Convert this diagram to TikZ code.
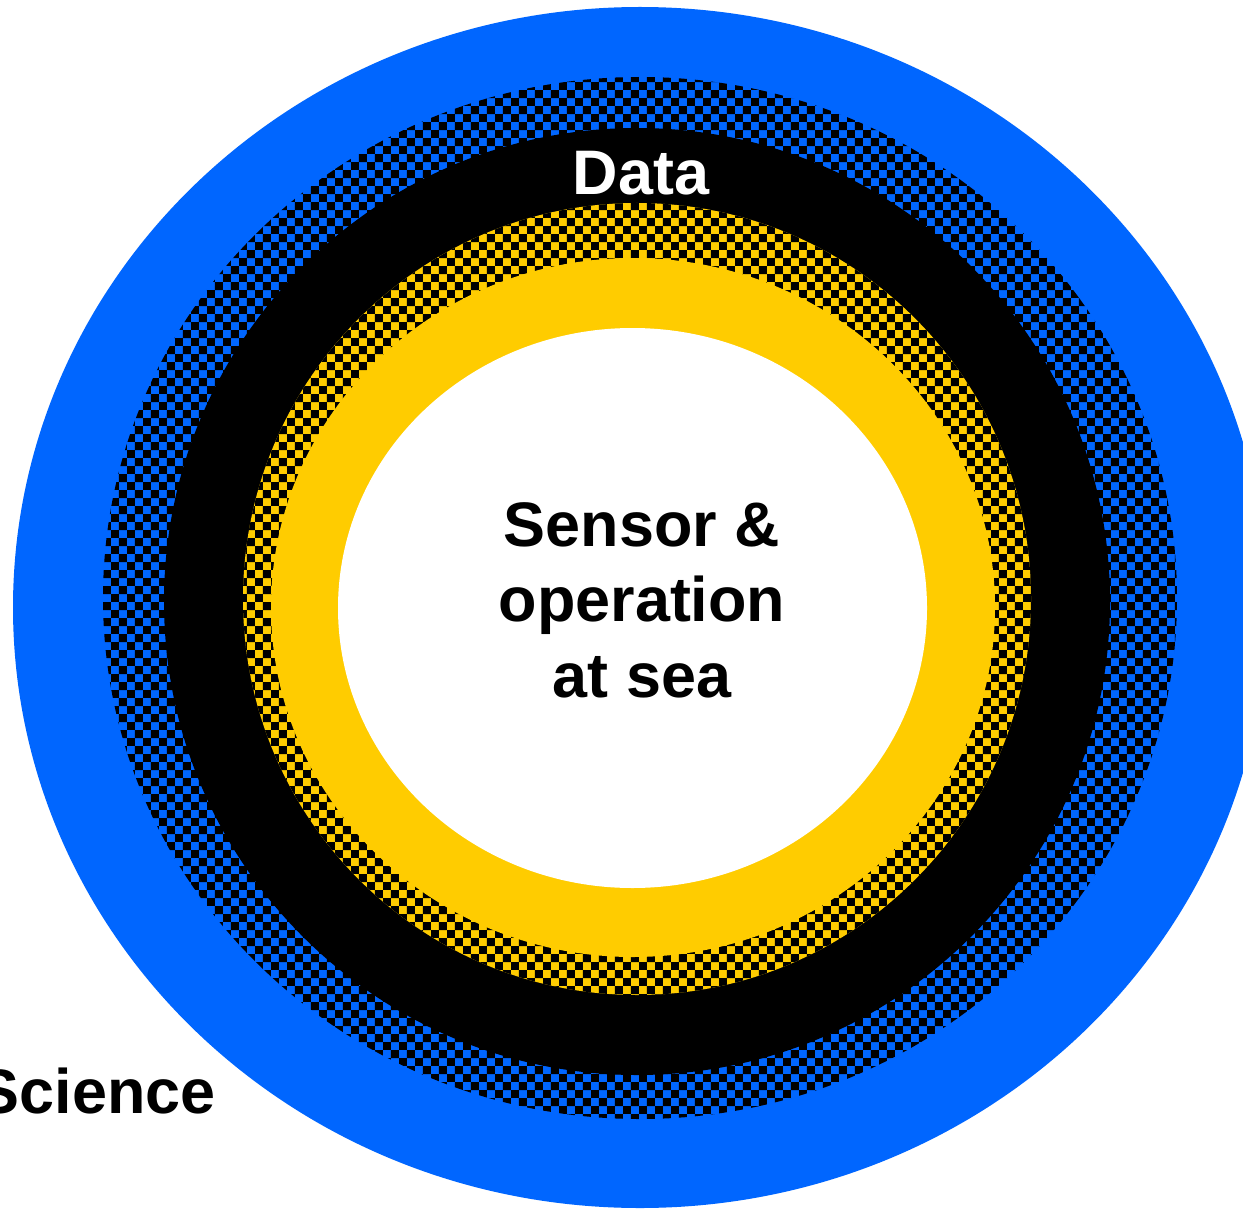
\documentclass[tikz,border=0pt]{standalone}
\usepackage{fontspec}
\setmainfont{Liberation Sans}
\usetikzlibrary{patterns}
\definecolor{ringblue}{HTML}{0066FF}
\definecolor{ringyellow}{HTML}{FFCC00}
\pgfdeclarepatternformonly{coarse checks}{\pgfpointorigin}{\pgfqpoint{9.1pt}{9.1pt}}%
	{\pgfqpoint{9.1pt}{9.1pt}}{%
	\pgfpathrectangle{\pgfpointorigin}{\pgfqpoint{4.55pt}{4.55pt}}%
	\pgfpathrectangle{\pgfqpoint{4.55pt}{4.55pt}}{\pgfqpoint{4.55pt}{4.55pt}}%
	\pgfusepath{fill}}
\tikzset{
	solidring/.style={fill=#1},
	checkring/.style={
		fill=#1,
		postaction={pattern=coarse checks, pattern color=black}},
	label/.style={
		font=\fontsize{35.8}{43}\selectfont\bfseries,
		inner sep=0pt,
		align=center},
}

\begin{document}
\begin{tikzpicture}
[x=0.02cm, y=-0.02cm]
\clip (0,0) rectangle (1243,1209);
\fill[white] (0,0) rectangle (1243,1209);
% rings, outside in
\path[solidring=ringblue] (640,607.5) ellipse [x radius=627, y radius=600.5];
\path[checkring=ringblue] (640,598) ellipse [x radius=537, y radius=521];
\path[solidring=black] (637,601.5) ellipse [x radius=473, y radius=473.5];
\path[checkring=ringyellow] (637,599) ellipse [x radius=394, y radius=396];
\path[solidring=ringyellow] (633,607.5) ellipse [x radius=362, y radius=349.5];
\path[solidring=white] (632.5,608) ellipse [x radius=294.5, y radius=280];

\node[label, text=white, anchor=base] (data) at (641,195) {Data};
\node[label] (sensor) at (642,600) {Sensor \&\\operation\\at sea};
\node[label, anchor=base east] (science) at (216,1113) {Science};
\end{tikzpicture}
\end{document}
